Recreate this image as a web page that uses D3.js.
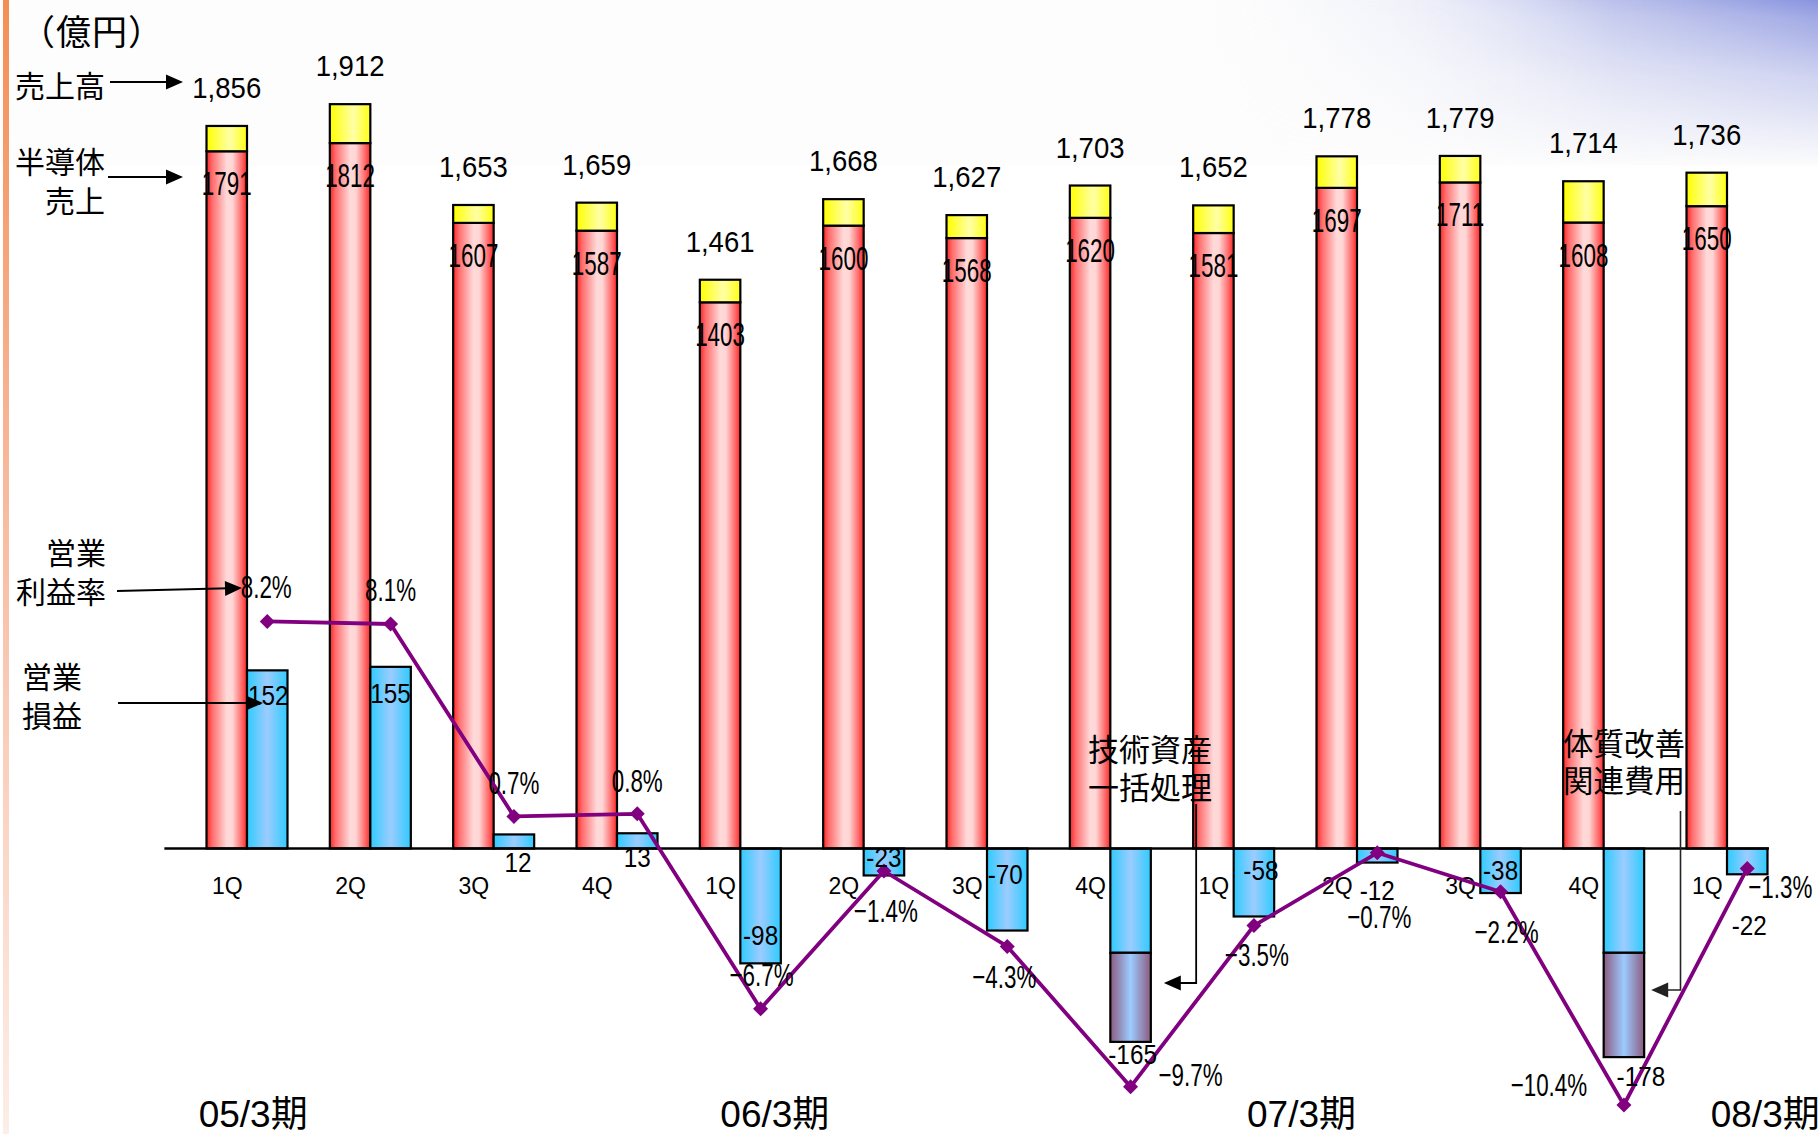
<!DOCTYPE html>
<html>
<head>
<meta charset="utf-8">
<script src="https://cdn.jsdelivr.net/npm/d3@7"></script>
<style>
  html, body { margin: 0; padding: 0; background: #fff; }
  svg { display: block; }
</style>
</head>
<body>
<svg id="chart" width="1818" height="1134"></svg>
<script>
// ---- data (億円, %) ----
const quarters = ["1Q","2Q","3Q","4Q","1Q","2Q","3Q","4Q","1Q","2Q","3Q","4Q","1Q"];
const fiscalYears = ["05/3期","06/3期","07/3期","08/3期"];
const netSales = [1856,1912,1653,1659,1461,1668,1627,1703,1652,1778,1779,1714,1736];
const semiconductorSales = [1791,1812,1607,1587,1403,1600,1568,1620,1581,1697,1711,1608,1650];
const operatingIncome = [152,155,12,13,-98,-23,-70,-165,-58,-12,-38,-178,-22];
// one-off charges contained in the operating loss (技術資産一括処理 / 体質改善関連費用)
const specialCharges = [0,0,0,0,0,0,0,-76,0,0,0,-89,0];
const operatingMargin = [8.2,8.1,0.7,0.8,-6.7,-1.4,-4.3,-9.7,-3.5,-0.7,-2.2,-10.4,-1.3];

// ---- layout ----
const W = 1818, H = 1134;
const fyLabelAt = [0.05, 4.28, 8.55, 12.31];           // position in category units
const pctLabelOffset = [[-1,-23],[0,-23],[0,-22],[0,-22],[1,-23],[2,51],[-3,42],[60,-1],[3,40],[2,75],[6,51],[-75,-9],[33,30]];
const incomeLabelOffset = [[1,35],[0,36],[4,38],[0,34],[0,-18],[0,-8],[-2,-47],[2,22],[7,-36],[0,37],[0,-13],[17,29],[2,61]];

const NUM_FONT = "'Liberation Sans', Arial, sans-serif";
const JP_FONT = "'Noto Sans CJK JP', 'Noto Sans CJK SC', sans-serif";

const svg = d3.select("#chart");
const defs = svg.append("defs");

function hGrad(id, stops) {
  const g = defs.append("linearGradient").attr("id", id)
    .attr("x1", "0%").attr("x2", "100%").attr("y1", "0%").attr("y2", "0%");
  stops.forEach(([o, c, a]) => g.append("stop").attr("offset", o).attr("stop-color", c).attr("stop-opacity", a === undefined ? 1 : a));
}
function vGrad(id, stops) {
  const g = defs.append("linearGradient").attr("id", id)
    .attr("x1", "0%").attr("x2", "0%").attr("y1", "0%").attr("y2", "100%");
  stops.forEach(([o, c, a]) => g.append("stop").attr("offset", o).attr("stop-color", c).attr("stop-opacity", a === undefined ? 1 : a));
}

hGrad("gRed", [[0, "#ff2424"], [0.14, "#ff6c6c"], [0.5, "#ffd9d9"], [0.64, "#ffd6d6"], [0.88, "#ff6666"], [1, "#ff2626"]]);
hGrad("gYellow", [[0, "#ffff00"], [0.58, "#ffffa6"], [1, "#ffff10"]]);
hGrad("gBlue", [[0, "#2ecbff"], [0.5, "#9cccff"], [1, "#2ecbff"]]);
hGrad("gMauve", [[0, "#8c5a80"], [0.5, "#9cccff"], [1, "#8c5a80"]]);
vGrad("gStripe", [[0, "#f38f55"], [0.45, "#f8bba0"], [1, "#fdeee8"]]);
hGrad("gHaze", [[0, "#ffffff", 0], [0.35, "#d3d7f3", 0.3], [0.68, "#9aa3e2", 0.68], [1, "#7d89db", 0.92]]);
vGrad("gHazeMask", [[0, "#fff"], [0.1, "#fff", 0.8], [0.45, "#fff", 0.4], [1, "#fff", 0]]);
defs.append("mask").attr("id", "hazeMask")
  .append("rect").attr("x", 1180).attr("y", 0).attr("width", W - 1180).attr("height", 168)
  .attr("fill", "url(#gHazeMask)");

// ---- background ----
svg.append("rect").attr("width", W).attr("height", H).attr("fill", "#fff");
svg.append("rect").attr("width", W).attr("height", 165).attr("fill", "#fdfdfd");
svg.append("rect").attr("x", 1180).attr("y", 0).attr("width", W - 1180).attr("height", 168)
  .attr("fill", "url(#gHaze)").attr("mask", "url(#hazeMask)");
svg.append("rect").attr("x", 3).attr("y", 0).attr("width", 6).attr("height", H).attr("fill", "url(#gStripe)");

// ---- scales ----
const idx = d3.range(quarters.length);
const xC = d3.scalePoint().domain(idx).range([247, 1727]);
const xIdx = d3.scaleLinear().domain([0, idx.length - 1]).range([247, 1727]);
const xSub = d3.scaleBand().domain(["sales", "income"]).range([-40.5, 40.5]);
const bw = xSub.bandwidth();
const ySales = d3.scaleLinear().domain([0, 2000]).range([848.5, 848.5 - 778.6]);
const yInc = d3.scaleLinear().domain([-200, 200]).range([848.5 + 234.4, 848.5 - 234.4]);
const yPct = d3.scaleLinear().domain([-12, 10]).range([1146.6, 574.6]);

const salesCx = i => xC(i) + xSub("sales") + bw / 2;
const incomeCx = i => xC(i) + xSub("income") + bw / 2;

// ---- sales bars ----
const bars = svg.append("g").attr("stroke", "#000").attr("stroke-width", 2.2);
bars.selectAll("rect.semi").data(idx).join("rect").attr("class", "semi")
  .attr("x", i => xC(i) + xSub("sales")).attr("width", bw)
  .attr("y", i => ySales(semiconductorSales[i]))
  .attr("height", i => ySales(0) - ySales(semiconductorSales[i]))
  .attr("fill", "url(#gRed)");
bars.selectAll("rect.other").data(idx).join("rect").attr("class", "other")
  .attr("x", i => xC(i) + xSub("sales")).attr("width", bw)
  .attr("y", i => ySales(netSales[i]))
  .attr("height", i => ySales(semiconductorSales[i]) - ySales(netSales[i]))
  .attr("fill", "url(#gYellow)");

// ---- operating income bars ----
const recurring = i => operatingIncome[i] - specialCharges[i];
bars.selectAll("rect.inc").data(idx).join("rect").attr("class", "inc")
  .attr("x", i => xC(i) + xSub("income")).attr("width", bw)
  .attr("y", i => yInc(Math.max(0, recurring(i))))
  .attr("height", i => Math.abs(yInc(recurring(i)) - yInc(0)))
  .attr("fill", "url(#gBlue)");
bars.selectAll("rect.special").data(idx.filter(i => specialCharges[i] !== 0)).join("rect").attr("class", "special")
  .attr("x", i => xC(i) + xSub("income")).attr("width", bw)
  .attr("y", i => yInc(recurring(i)))
  .attr("height", i => yInc(operatingIncome[i]) - yInc(recurring(i)))
  .attr("fill", "url(#gMauve)");

// ---- category axis ----
svg.append("line")
  .attr("x1", xIdx(-0.67)).attr("x2", xIdx(12.34))
  .attr("y1", yInc(0)).attr("y2", yInc(0))
  .attr("stroke", "#000").attr("stroke-width", 2.6);

const axis = svg.append("g")
  .attr("transform", `translate(0,${yInc(0)})`)
  .call(d3.axisBottom(xC).tickSize(0).tickPadding(0).tickFormat(i => quarters[i]));
axis.select(".domain").remove();
axis.selectAll("text")
  .attr("font-family", NUM_FONT).attr("font-size", 23).attr("fill", "#000")
  .attr("dy", null).attr("y", 45)
  .attr("x", xSub("sales") + bw / 2);

fiscalYears.forEach((t, k) => {
  svg.append("text").attr("x", xIdx(fyLabelAt[k])).attr("y", 1127)
    .attr("text-anchor", "middle").attr("font-family", NUM_FONT + ", " + JP_FONT)
    .attr("font-size", 37).text(t);
});

// ---- operating margin line ----
const line = d3.line().x(i => incomeCx(i)).y(i => yPct(operatingMargin[i]));
svg.append("path").datum(idx).attr("d", line)
  .attr("fill", "none").attr("stroke", "#800080").attr("stroke-width", 3.8).attr("stroke-linejoin", "round");
const diamond = "M0,-7.5L7.5,0L0,7.5L-7.5,0Z";
svg.append("g").selectAll("path").data(idx).join("path")
  .attr("d", diamond).attr("fill", "#800080")
  .attr("transform", i => `translate(${incomeCx(i)},${yPct(operatingMargin[i])})`);

// ---- value labels ----
const fmt = d3.format(",");
function squeezedText(g, data, xf, yf, textf, size, sx) {
  g.selectAll("text").data(data).join("text")
    .attr("text-anchor", "middle").attr("font-family", NUM_FONT).attr("font-size", size).attr("fill", "#000")
    .attr("transform", i => `translate(${xf(i)},${yf(i)}) scale(${sx},1)`)
    .text(textf);
}
squeezedText(svg.append("g"), idx, salesCx, i => ySales(netSales[i]) - 28, i => fmt(netSales[i]), 29, 0.95);
squeezedText(svg.append("g"), idx, salesCx, i => ySales(semiconductorSales[i]) + 44, i => semiconductorSales[i], 33, 0.68);
squeezedText(svg.append("g"), idx,
  i => incomeCx(i) + incomeLabelOffset[i][0],
  i => yInc(operatingIncome[i]) + incomeLabelOffset[i][1],
  i => String(operatingIncome[i]), 27, 0.9);
squeezedText(svg.append("g"), idx,
  i => incomeCx(i) + pctLabelOffset[i][0],
  i => yPct(operatingMargin[i]) + pctLabelOffset[i][1],
  i => (operatingMargin[i] < 0 ? "\u2212" : "") + Math.abs(operatingMargin[i]).toFixed(1) + "%", 32, 0.7);

// ---- annotations ----
function jp(x, y, t, size, anchor, spacing) {
  svg.append("text").attr("x", x).attr("y", y).attr("font-family", JP_FONT)
    .attr("font-size", size).attr("text-anchor", anchor || "start")
    .attr("letter-spacing", spacing || 0)
    .attr("dominant-baseline", "central").attr("fill", "#000").text(t);
}
function arrow(d, tip, dir, color, width) {
  svg.append("path").attr("d", d).attr("fill", "none").attr("stroke", color).attr("stroke-width", width);
  const [tx, ty] = tip, L = 17, Hw = 7.5;
  const ux = Math.cos(dir), uy = Math.sin(dir);
  const bx = tx - ux * L, by = ty - uy * L;
  svg.append("path")
    .attr("d", `M${tx},${ty}L${bx - uy * Hw},${by + ux * Hw}L${bx + uy * Hw},${by - ux * Hw}Z`)
    .attr("fill", color);
}

jp(20, 29, "（億円）", 35, "start", 1);
jp(15, 83.5, "売上高", 30);
arrow("M110,82H170", [183, 82], 0, "#000", 2);
jp(105, 160, "半導体", 30, "end");
jp(105, 198.5, "売上", 30, "end");
arrow("M108,177H170", [183, 177], 0, "#000", 2);
jp(106, 550.5, "営業", 30, "end");
jp(106, 589.5, "利益率", 30, "end");
arrow("M117,591L229,588.2", [242, 588], Math.atan2(-3, 125), "#000", 2);
jp(22, 674.5, "営業", 30);
jp(22, 713.5, "損益", 30);
arrow("M118,703H250", [263, 703], 0, "#000", 2);

// 技術資産一括処理 (07/3期 4Q)
const b1x = xC(8) + xSub("sales") + 3;
jp(1088, 747.5, "技術資産", 31);
jp(1088, 785.5, "一括処理", 31);
arrow(`M${b1x},804V983H${xC(7) + xSub("income") + bw + 26}`, [xC(7) + xSub("income") + bw + 13, 983], Math.PI, "#000", 1.8);

// 体質改善関連費用 (08/3期 4Q)
const b2x = xC(12) + xSub("sales") - 6;
jp(1563, 741.5, "体質改善", 30.5);
jp(1563, 779, "関連費用", 30.5);
arrow(`M${b2x},811V990H${xC(11) + xSub("income") + bw + 20}`, [xC(11) + xSub("income") + bw + 7, 990], Math.PI, "#222", 1.6);
</script>
</body>
</html>
